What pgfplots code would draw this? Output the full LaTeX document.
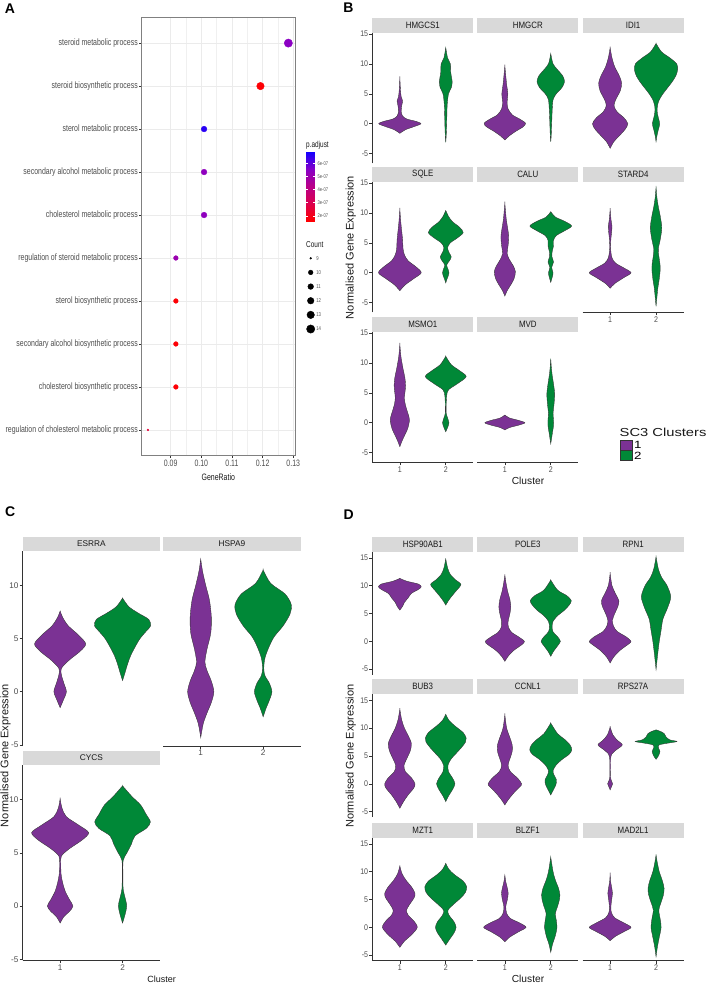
\documentclass[border=0pt]{standalone}
\usepackage{fontspec}
\setmainfont{Liberation Sans}
\newfontfamily\cond[FakeStretch=0.75]{Liberation Sans}
\newfontfamily\condb[FakeStretch=0.86]{Liberation Sans}
\newfontfamily\widef[FakeStretch=1.27]{Liberation Sans}
\usepackage{pgfplots}
\pgfplotsset{compat=1.18}
\usepackage{pgfplotstable}

\definecolor{vp}{HTML}{7B3294}
\definecolor{vg}{HTML}{008837}
\definecolor{stripgray}{HTML}{D9D9D9}
\definecolor{axgray}{HTML}{333333}
\definecolor{tkgray}{HTML}{4D4D4D}
\definecolor{cbzero}{RGB}{255,0,0}
\definecolor{cbone}{RGB}{222,0,75}
\definecolor{cbtwo}{RGB}{186,0,135}
\definecolor{cbthree}{RGB}{135,0,200}
\definecolor{cbfour}{RGB}{20,0,255}
\pgfkeys{/pgf/number format/assume math mode=true}

% mirror a (y, w) profile into a closed outline: s=+1 going up, s=-1 coming down
\newcommand\mkviolin[1]{%
  \pgfplotstablesort[sort key=y, sort cmp=float >]\vrev{#1}%
  \pgfplotstablecreatecol[create col/set={-1}]{s}{\vrev}%
  \pgfplotstablecreatecol[create col/set={1}]{s}{#1}%
  \pgfplotstablevertcat{#1}{\vrev}%
}

% ---------- panel A: GO enrichment ----------
\pgfplotstableread{
row gr count p r
1 0.1284 14 5.4 4.15
2 0.1193 13 1.6 3.75
3 0.1009 11 6.6 2.85
4 0.1009 11 5.3 2.85
5 0.1009 11 5.3 2.85
6 0.0917 10 5.0 2.35
7 0.0917 10 1.6 2.35
8 0.0917 10 1.6 2.35
9 0.0917 10 1.6 2.35
10 0.0826 9 2.5 0.9
}\goA
\pgfplotstableread{
x count r
0.235 9 0.9
0.235 10 2.35
0.235 11 2.85
0.235 12 3.3
0.235 13 3.75
0.235 14 4.15
}\goSize

% ---------- violin profiles: y, half width (x units) ----------
% B
\pgfplotstableread{
y w
-1.6 0
-1.0 0.12
-0.5 0.3
0 0.46
0.4 0.35
0.8 0.15
1.3 0.06
2.0 0.03
3.0 0.04
3.8 0.06
4.5 0.03
5.5 0.015
7.7 0
}\bHMGCSa
\mkviolin\bHMGCSa
\pgfplotstableread{
y w
-3.1 0
-2 0.01
0 0.02
3 0.03
5 0.06
6 0.12
7 0.14
8.5 0.11
10 0.1
11 0.04
12.7 0
}\bHMGCSb
\mkviolin\bHMGCSb
\pgfplotstableread{
y w
-2.7 0
-2.0 0.1
-1.2 0.25
-0.5 0.4
0.1 0.45
0.8 0.32
1.5 0.16
2.5 0.07
3.5 0.05
5.0 0.065
6.5 0.04
8.0 0.02
9.7 0
}\bHMGCRa
\mkviolin\bHMGCRa
\pgfplotstableread{
y w
-3 0
-2 0.01
0 0.02
2 0.03
4 0.05
5 0.12
6 0.24
7 0.3
8 0.26
9 0.15
10 0.05
11.7 0
}\bHMGCRb
\mkviolin\bHMGCRb
\pgfplotstableread{
y w
-4.1 0
-3.0 0.08
-2.0 0.2
-1.0 0.32
0 0.385
1.0 0.3
2.0 0.15
3.0 0.085
4.0 0.12
5.5 0.22
6.8 0.25
8.0 0.2
9.5 0.1
11 0.04
12.7 0
}\bIDIa
\mkviolin\bIDIa
\pgfplotstableread{
y w
-3.0 0
-2 0.02
-1 0.05
0 0.08
1 0.05
2 0.025
3 0.03
4 0.07
5 0.15
6 0.25
7 0.35
8 0.43
9 0.47
10 0.45
11 0.3
12 0.12
13.4 0
}\bIDIb
\mkviolin\bIDIb
\pgfplotstableread{
y w
-3.0 0
-2.0 0.12
-1.0 0.3
0 0.466
1.0 0.35
2.0 0.18
3 0.1
4 0.07
5.5 0.06
7 0.04
8.5 0.02
10.6 0
}\bSQLEa
\mkviolin\bSQLEa
\pgfplotstableread{
y w
-1.7 0
-1.0 0.03
-0.4 0.06
0 0.07
0.6 0.05
1.3 0.02
2.0 0.08
2.65 0.12
3.4 0.07
4.2 0.04
5.0 0.1
5.8 0.25
6.7 0.38
7.6 0.3
8.5 0.15
9.4 0.06
10.4 0
}\bSQLEb
\mkviolin\bSQLEb
\pgfplotstableread{
y w
-3.9 0
-3 0.05
-2 0.13
-1 0.2
0.2 0.23
1.2 0.18
2.2 0.1
3.2 0.05
4.5 0.07
6 0.085
7.5 0.06
9 0.03
11.6 0
}\bCALUa
\mkviolin\bCALUa
\pgfplotstableread{
y w
-1.6 0
-0.8 0.03
0 0.05
0.9 0.02
1.8 0.06
2.7 0.025
3.5 0.03
4.5 0.06
5.4 0.06
6.2 0.12
7.0 0.3
7.8 0.455
8.6 0.3
9.3 0.1
10.2 0
}\bCALUb
\mkviolin\bCALUb
\pgfplotstableread{
y w
-2.6 0
-1.8 0.1
-0.8 0.3
0 0.455
0.8 0.3
1.6 0.12
2.5 0.04
4 0.01
5.5 0.015
7 0.035
7.8 0.04
8.8 0.02
10.6 0
}\bSTARDa
\mkviolin\bSTARDa
\pgfplotstableread{
y w
-5.6 0
-4 0.02
-2.5 0.04
-1 0.07
0.5 0.09
1.5 0.085
2.8 0.06
4 0.05
5.5 0.09
7.5 0.125
9.5 0.09
11 0.05
12.5 0.02
14.3 0
}\bSTARDb
\mkviolin\bSTARDb
\pgfplotstableread{
y w
-4.0 0
-3 0.05
-2 0.11
-1 0.17
0.5 0.21
1.7 0.17
3 0.12
4.1 0.1
5 0.11
6.2 0.125
7.5 0.11
9 0.07
11 0.025
13.1 0
}\bMSMOa
\mkviolin\bMSMOa
\pgfplotstableread{
y w
-1.5 0
-0.8 0.04
0 0.07
0.8 0.04
1.6 0.01
3 0.01
4.5 0.02
5.5 0.06
6.5 0.25
7.7 0.445
8.7 0.3
9.7 0.12
11.1 0
}\bMSMOb
\mkviolin\bMSMOb
\pgfplotstableread{
y w
-1.2 0
-0.8 0.1
-0.4 0.3
0 0.437
0.4 0.3
0.8 0.1
1.3 0
}\bMVDa
\mkviolin\bMVDa
\pgfplotstableread{
y w
-3.5 0
-2.5 0.02
-1.5 0.04
-0.5 0.06
0.5 0.06
1.6 0.05
3 0.07
4.8 0.085
6.5 0.06
8 0.03
9.5 0.01
10.7 0
}\bMVDb
\mkviolin\bMVDb
% C
\pgfplotstableread{
y w
-1.5 0
-0.8 0.05
0 0.1
0.8 0.06
1.6 0.02
2.2 0.02
3 0.15
3.8 0.32
4.5 0.41
5.3 0.3
6.2 0.13
7.0 0.04
7.6 0
}\cESRRAa
\mkviolin\cESRRAa
\pgfplotstableread{
y w
1.05 0
1.8 0.04
2.6 0.08
3.4 0.13
4.2 0.2
5.0 0.28
5.7 0.38
6.2 0.45
6.8 0.42
7.4 0.25
8.0 0.1
8.8 0
}\cESRRAb
\mkviolin\cESRRAb
\pgfplotstableread{
y w
-4.3 0
-3 0.04
-2 0.1
-1 0.17
0 0.21
1 0.17
2 0.1
2.8 0.067
4 0.1
5.5 0.16
7 0.17
8.6 0.14
10 0.08
11.3 0.03
12.46 0
}\cHSPAa
\mkviolin\cHSPAa
\pgfplotstableread{
y w
-2.35 0
-1.5 0.05
-0.8 0.1
0 0.14
0.8 0.1
1.5 0.03
2.2 0.01
3.2 0.03
4.3 0.1
5.2 0.18
6.2 0.32
7.3 0.43
8.2 0.45
9.2 0.35
10.2 0.12
11.45 0
}\cHSPAb
\mkviolin\cHSPAb
\pgfplotstableread{
y w
-1.6 0
-1 0.06
-0.5 0.15
0 0.205
0.6 0.15
1.4 0.08
2.2 0.04
3 0.015
4 0.01
4.7 0.02
5.4 0.15
6.2 0.35
6.9 0.457
7.6 0.3
8.4 0.1
9.2 0.03
10.1 0
}\cCYCSa
\mkviolin\cCYCSa
\pgfplotstableread{
y w
-1.6 0
-0.8 0.04
0 0.067
0.8 0.04
1.6 0.01
3 0.005
4.3 0.01
5 0.07
5.8 0.14
6.6 0.2
7.3 0.38
7.9 0.446
8.6 0.38
9.5 0.29
10.3 0.15
11.3 0
}\cCYCSb
\mkviolin\cCYCSb
% D
\pgfplotstableread{
y w
5.6 0
6.3 0.06
7.0 0.1
7.8 0.18
8.6 0.25
9.3 0.4
9.8 0.466
10.3 0.4
10.8 0.15
11.3 0
}\dHSPa
\mkviolin\dHSPa
\pgfplotstableread{
y w
6.5 0
7.2 0.05
8 0.12
9 0.22
10.2 0.33
11 0.22
12 0.1
13.2 0.04
14.8 0
}\dHSPb
\mkviolin\dHSPb
\pgfplotstableread{
y w
-3.6 0
-2.6 0.08
-1.6 0.2
-0.6 0.37
0 0.426
0.8 0.3
1.6 0.15
2.5 0.08
3.5 0.07
5 0.11
6.2 0.13
7.5 0.11
9 0.06
10.5 0.025
11.9 0
}\dPOLEa
\mkviolin\dPOLEa
\pgfplotstableread{
y w
-2.7 0
-1.8 0.06
-0.8 0.15
0 0.21
0.8 0.15
1.7 0.05
2.6 0.03
3.6 0.05
4.6 0.15
5.6 0.3
6.5 0.4
7.3 0.448
8.2 0.35
9.2 0.15
11.0 0
}\dPOLEb
\mkviolin\dPOLEb
\pgfplotstableread{
y w
-3.9 0
-2.8 0.08
-1.6 0.22
-0.5 0.4
0 0.455
0.8 0.35
1.8 0.15
2.8 0.07
3.8 0.05
5 0.1
6.3 0.17
7.3 0.19
8.5 0.12
10 0.04
12.2 0
}\dRPNa
\mkviolin\dRPNa
\pgfplotstableread{
y w
-5.1 0
-3.5 0.02
-2 0.04
0 0.07
2 0.11
4 0.15
6 0.25
8 0.32
10 0.24
11.5 0.12
13 0.05
15.2 0
}\dRPNb
\mkviolin\dRPNb
\pgfplotstableread{
y w
-4.4 0
-3.2 0.08
-2 0.18
-0.8 0.3
0 0.33
1 0.26
2.2 0.12
3.3 0.09
4.5 0.15
6 0.23
7.3 0.25
8.7 0.18
10 0.1
11.5 0.04
13.4 0
}\dBUBa
\mkviolin\dBUBa
\pgfplotstableread{
y w
-3.2 0
-2.2 0.06
-1 0.15
0 0.2
1 0.15
2.2 0.06
3.4 0.05
4.5 0.12
5.5 0.23
6.6 0.35
7.5 0.43
8.2 0.445
9.2 0.38
10.4 0.2
11.4 0.07
12.5 0
}\dBUBb
\mkviolin\dBUBb
\pgfplotstableread{
y w
-3.8 0
-2.8 0.08
-1.6 0.2
-0.5 0.33
0 0.365
1 0.28
2.2 0.12
3.3 0.07
4.5 0.11
5.8 0.16
7 0.16
8.3 0.11
10 0.04
12.4 0
}\dCCNLa
\mkviolin\dCCNLa
\pgfplotstableread{
y w
-2.0 0
-1.2 0.05
-0.2 0.11
0.7 0.125
1.6 0.07
2.4 0.05
3.4 0.12
4.4 0.25
5.3 0.4
6.1 0.458
7 0.42
8 0.3
9 0.15
10.9 0
}\dCCNLb
\mkviolin\dCCNLb
\pgfplotstableread{
y w
-1.1 0
-0.5 0.03
0 0.055
0.5 0.03
1.2 0.008
3 0.008
4.5 0.01
5.4 0.04
6.2 0.15
7.0 0.265
7.8 0.16
8.8 0.06
10.2 0
}\dRPSa
\mkviolin\dRPSa
\pgfplotstableread{
y w
4.4 0
5 0.05
5.8 0.085
6.5 0.05
7.0 0.07
7.3 0.25
7.6 0.455
7.9 0.3
8.4 0.22
9.0 0.18
9.4 0.1
9.7 0
}\dRPSb
\mkviolin\dRPSb
\pgfplotstableread{
y w
-3.6 0
-2.5 0.1
-1.3 0.26
0 0.38
1.2 0.3
2.2 0.18
3.1 0.145
4.2 0.22
5.3 0.31
6.1 0.33
7.2 0.26
8.4 0.14
9.6 0.05
11.0 0
}\dMZTa
\mkviolin\dMZTa
\pgfplotstableread{
y w
-3.2 0
-2.2 0.08
-1 0.18
0 0.225
1 0.18
2.2 0.07
3.1 0.05
4.2 0.18
5.3 0.33
6.3 0.43
7.3 0.455
8.3 0.38
9.4 0.2
10.4 0.07
11.5 0
}\dMZTb
\mkviolin\dMZTb
\pgfplotstableread{
y w
-2.6 0
-1.8 0.1
-0.8 0.3
0 0.462
0.8 0.32
1.6 0.12
2.5 0.04
3.7 0.02
4.8 0.05
6.1 0.073
7.2 0.05
8.2 0.02
9.4 0
}\dBLZFa
\mkviolin\dBLZFa
\pgfplotstableread{
y w
-4.5 0
-3 0.04
-1.5 0.1
0 0.135
1.3 0.12
2.5 0.1
3.8 0.15
5 0.19
5.8 0.2
7 0.17
8.5 0.1
10 0.05
12.6 0
}\dBLZFb
\mkviolin\dBLZFb
\pgfplotstableread{
y w
-2.4 0
-1.6 0.12
-0.7 0.32
0 0.455
0.8 0.3
1.7 0.1
2.6 0.03
3.5 0.015
4.8 0.03
6.1 0.05
7.3 0.03
8.3 0.01
9.7 0
}\dMADa
\mkviolin\dMADa
\pgfplotstableread{
y w
-5.3 0
-3.5 0.03
-1.8 0.07
0 0.11
1.5 0.09
3.1 0.06
4.5 0.11
5.8 0.16
7 0.175
8.3 0.14
10 0.07
11.5 0.03
13.0 0
}\dMADb
\mkviolin\dMADb

% one violin: centre, colour, mirrored table
\newcommand\violin[3]{%
  \addplot[fill=#2, draw=axgray, line width=0.35pt, smooth]
    table[x expr={#1+\thisrow{s}*\thisrow{w}}, y=y] {#3} -- cycle;
}
\newcommand\bstrip[1]{%
  \fill[stripgray] (rel axis cs:0,1) rectangle ([yshift=15pt]rel axis cs:1,1);
  \node[font=\condb\fontsize{9.2}{10}\selectfont, text=black!90, inner sep=0] at ([yshift=7.5pt]rel axis cs:0.5,1) {#1};}
\newcommand\cstrip[1]{%
  \fill[stripgray] (rel axis cs:0,1) rectangle ([yshift=14pt]rel axis cs:1,1);
  \node[font=\fontsize{8.3}{9}\selectfont, text=black!90, inner sep=0] at ([yshift=7pt]rel axis cs:0.5,1) {#1};}

\pgfplotsset{
  facet/.style={scale only axis, anchor=north west, xmin=0.4, xmax=2.6, clip=false,
    xtick={1,2}, tick align=outside, major tick length=3pt,
    axis line style={draw=axgray, line width=0.7pt},
    tick style={draw=axgray, line width=0.6pt},
    ticklabel style={text=tkgray, inner sep=1pt}},
  bd/.style={facet, width=101pt, ytick={-5,0,5,10,15},
    ticklabel style={font=\condb\fontsize{8.2}{9}\selectfont}},
  brow/.style={bd, height=130.6pt, ymin=-6.6, ymax=15.2},
  drow/.style={bd, height=123pt, ymin=-6.0, ymax=16.1},
  crow/.style={facet, width=137.3pt, height=195.3pt, ymin=-5.1, ymax=13.26,
    ytick={-5,0,5,10}, ticklabel style={font=\fontsize{8.2}{9}\selectfont}},
  onlyleft/.style={axis x line=none, axis y line*=left},
  both/.style={axis lines*=left},
  onlybottom/.style={axis x line*=bottom, axis y line=none},
  noaxis/.style={axis lines=none},
}

\begin{document}
\begin{tikzpicture}
\path[use as bounding box] (0pt,0pt) rectangle (709pt,-986pt);

% ================= A =================
\begin{axis}[at={(141.7pt,-17.3pt)}, anchor=north west, scale only axis,
  width=154pt, height=438.4pt,
  xmin=0.08055, xmax=0.1308, ymin=0.4, ymax=10.6, y dir=reverse,
  xtick={0.09,0.10,0.11,0.12,0.13}, xticklabels={0.09,0.10,0.11,0.12,0.13},
  minor x tick num=1, minor tick length=0pt,
  ytick={1,...,10},
  yticklabels={steroid metabolic process, steroid biosynthetic process, sterol metabolic process,
    secondary alcohol metabolic process, cholesterol metabolic process,
    regulation of steroid metabolic process, sterol biosynthetic process,
    secondary alcohol biosynthetic process, cholesterol biosynthetic process,
    regulation of cholesterol metabolic process},
  xmajorgrids, xminorgrids, ymajorgrids,
  major grid style={draw=black!8, line width=0.6pt},
  minor grid style={draw=black!6, line width=0.35pt},
  axis line style={draw=black!50, line width=0.7pt},
  tick style={draw=axgray, line width=0.5pt}, tick align=outside, major tick length=2.5pt,
  xtick pos=left, ytick pos=left,
  ticklabel style={font=\cond\fontsize{9.3}{10}\selectfont, text=tkgray, inner sep=1.2pt},
  colormap={padj}{rgb255=(255,0,0) rgb255=(222,0,75) rgb255=(186,0,135) rgb255=(135,0,200) rgb255=(20,0,255)},
  point meta min=1.52, point meta max=6.83,
]
\addplot[scatter, only marks, mark=*, point meta=explicit,
  scatter/use mapped color={draw=mapped color, fill=mapped color},
  visualization depends on={\thisrow{r} \as \rad},
  scatter/@pre marker code/.append style={/tikz/mark size=\rad pt}]
  table[x=gr, y=row, meta=p] {\goA};
\end{axis}
% p.adjust colour bar, built from thin slices
\node[anchor=west, inner sep=0, font=\cond\fontsize{8.6}{9}\selectfont, text=black!90] at (306pt,-145pt) {p.adjust};
\foreach \ca/\cb/\yb in {cbzero/cbone/222.3, cbone/cbtwo/204.8, cbtwo/cbthree/187.3, cbthree/cbfour/169.8}{
  \foreach \k in {0,...,17}{
    \pgfmathtruncatemacro\pct{(\k+0.5)/17.5*100}
    \fill[\cb!\pct!\ca] (306pt,{(\k-\yb)*1pt}) rectangle (315pt,{(\k+1.05-\yb)*1pt});
  }
}
\fill[white] (306pt,-152.3pt) rectangle (315pt,-151pt);
\foreach \yy/\lab in {163.3/6e-07, 176.3/5e-07, 189.7/4e-07, 202.7/3e-07, 216/2e-07}{
  \draw[white, line width=0.5pt] (306pt,-\yy pt) -- (307.8pt,-\yy pt) (313.2pt,-\yy pt) -- (315pt,-\yy pt);
  \node[anchor=west, inner sep=0, font=\cond\fontsize{5.4}{6}\selectfont, text=tkgray] at (317.5pt,-\yy pt) {\lab};
}
\node[anchor=west, inner sep=0, font=\cond\fontsize{8.6}{9}\selectfont, text=black!90] at (306pt,-245pt) {Count};
% size legend
\begin{axis}[at={(306pt,-251.2pt)}, anchor=north west, scale only axis,
  width=20pt, height=84.9pt, hide axis, clip=false,
  xmin=0, xmax=1, ymin=8.5, ymax=14.5, y dir=reverse]
\addplot[scatter, only marks, mark=*, point meta=explicit,
  scatter/use mapped color={draw=black, fill=black},
  visualization depends on={\thisrow{r} \as \rad},
  scatter/@pre marker code/.append style={/tikz/mark size=\rad pt}]
  table[x=x, y=count, meta=count] {\goSize};
\addplot[only marks, mark=none, point meta=explicit symbolic,
  nodes near coords,
  every node near coord/.append style={anchor=west, xshift=5.5pt, inner sep=0,
    font=\cond\fontsize{5.6}{6}\selectfont, text=tkgray}]
  table[x=x, y=count, meta=count] {\goSize};
\end{axis}
\node[anchor=center, inner sep=0, font=\cond\fontsize{9.3}{10}\selectfont, text=black!90] at (218.3pt,-476.7pt) {GeneRatio};

% ================= B =================
\begin{axis}[brow, onlyleft, at={(372.3pt,-32.7pt)}]
\bstrip{HMGCS1}
\violin{1}{vp}{\bHMGCSa}
\violin{2}{vg}{\bHMGCSb}
\end{axis}
\begin{axis}[brow, noaxis, at={(477.3pt,-32.7pt)}]
\bstrip{HMGCR}
\violin{1}{vp}{\bHMGCRa}
\violin{2}{vg}{\bHMGCRb}
\end{axis}
\begin{axis}[brow, noaxis, at={(582.6pt,-32.7pt)}]
\bstrip{IDI1}
\violin{1}{vp}{\bIDIa}
\violin{2}{vg}{\bIDIb}
\end{axis}
\begin{axis}[brow, onlyleft, at={(372.3pt,-181.7pt)}]
\bstrip{SQLE}
\violin{1}{vp}{\bSQLEa}
\violin{2}{vg}{\bSQLEb}
\end{axis}
\begin{axis}[brow, noaxis, at={(477.3pt,-181.7pt)}]
\bstrip{CALU}
\violin{1}{vp}{\bCALUa}
\violin{2}{vg}{\bCALUb}
\end{axis}
\begin{axis}[brow, onlybottom, at={(582.6pt,-181.7pt)}]
\bstrip{STARD4}
\violin{1}{vp}{\bSTARDa}
\violin{2}{vg}{\bSTARDb}
\end{axis}
\begin{axis}[brow, both, at={(372.3pt,-331.7pt)}]
\bstrip{MSMO1}
\violin{1}{vp}{\bMSMOa}
\violin{2}{vg}{\bMSMOb}
\end{axis}
\begin{axis}[brow, onlybottom, at={(477.3pt,-331.7pt)}]
\bstrip{MVD}
\violin{1}{vp}{\bMVDa}
\violin{2}{vg}{\bMVDb}
\end{axis}
\node[font=\fontsize{10.2}{11}\selectfont, text=black!90] at (528pt,-480.7pt) {Cluster};
\node[rotate=90, font=\fontsize{11}{12}\selectfont, text=black!90] at (350.7pt,-247.5pt) {Normalised Gene Expression};
% legend
\node[anchor=west, inner sep=0, font=\widef\fontsize{11.6}{12}\selectfont, text=black!90] at (619.5pt,-432.7pt) {SC3 Clusters};
\filldraw[fill=vp, draw=axgray, line width=0.5pt] (620.3pt,-440pt) rectangle (632.3pt,-450.3pt);
\filldraw[fill=vg, draw=axgray, line width=0.5pt] (620.3pt,-450.7pt) rectangle (632.3pt,-460.7pt);
\node[anchor=west, inner sep=0, font=\widef\fontsize{10.5}{11}\selectfont] at (634pt,-445.2pt) {1};
\node[anchor=west, inner sep=0, font=\widef\fontsize{10.5}{11}\selectfont] at (634pt,-455.7pt) {2};

% ================= C =================
\begin{axis}[crow, onlyleft, at={(22.7pt,-550.7pt)}]
\cstrip{ESRRA}
\violin{1}{vp}{\cESRRAa}
\violin{2}{vg}{\cESRRAb}
\end{axis}
\begin{axis}[crow, onlybottom, at={(163.3pt,-550.7pt)}]
\cstrip{HSPA9}
\violin{1}{vp}{\cHSPAa}
\violin{2}{vg}{\cHSPAb}
\end{axis}
\begin{axis}[crow, both, at={(22.7pt,-765pt)}]
\cstrip{CYCS}
\violin{1}{vp}{\cCYCSa}
\violin{2}{vg}{\cCYCSb}
\end{axis}
\node[font=\fontsize{9}{10}\selectfont, text=black!90] at (161.7pt,-979pt) {Cluster};
\node[rotate=90, font=\fontsize{11}{12}\selectfont, text=black!90] at (5.5pt,-755.5pt) {Normalised Gene Expression};

% ================= D =================
\begin{axis}[drow, onlyleft, at={(372.3pt,-551.7pt)}]
\bstrip{HSP90AB1}
\violin{1}{vp}{\dHSPa}
\violin{2}{vg}{\dHSPb}
\end{axis}
\begin{axis}[drow, noaxis, at={(477.3pt,-551.7pt)}]
\bstrip{POLE3}
\violin{1}{vp}{\dPOLEa}
\violin{2}{vg}{\dPOLEb}
\end{axis}
\begin{axis}[drow, noaxis, at={(582.6pt,-551.7pt)}]
\bstrip{RPN1}
\violin{1}{vp}{\dRPNa}
\violin{2}{vg}{\dRPNb}
\end{axis}
\begin{axis}[drow, onlyleft, at={(372.3pt,-694.2pt)}]
\bstrip{BUB3}
\violin{1}{vp}{\dBUBa}
\violin{2}{vg}{\dBUBb}
\end{axis}
\begin{axis}[drow, noaxis, at={(477.3pt,-694.2pt)}]
\bstrip{CCNL1}
\violin{1}{vp}{\dCCNLa}
\violin{2}{vg}{\dCCNLb}
\end{axis}
\begin{axis}[drow, noaxis, at={(582.6pt,-694.2pt)}]
\bstrip{RPS27A}
\violin{1}{vp}{\dRPSa}
\violin{2}{vg}{\dRPSb}
\end{axis}
\begin{axis}[drow, both, at={(372.3pt,-837.7pt)}]
\bstrip{MZT1}
\violin{1}{vp}{\dMZTa}
\violin{2}{vg}{\dMZTb}
\end{axis}
\begin{axis}[drow, onlybottom, at={(477.3pt,-837.7pt)}]
\bstrip{BLZF1}
\violin{1}{vp}{\dBLZFa}
\violin{2}{vg}{\dBLZFb}
\end{axis}
\begin{axis}[drow, onlybottom, at={(582.6pt,-837.7pt)}]
\bstrip{MAD2L1}
\violin{1}{vp}{\dMADa}
\violin{2}{vg}{\dMADb}
\end{axis}
\node[font=\fontsize{10.2}{11}\selectfont, text=black!90] at (528pt,-979.3pt) {Cluster};
\node[rotate=90, font=\fontsize{11}{12}\selectfont, text=black!90] at (350.7pt,-756.2pt) {Normalised Gene Expression};

% panel letters
\node[anchor=north west, inner sep=0, font=\bfseries\fontsize{14}{14}\selectfont] at (4.7pt,-3.3pt) {A};
\node[anchor=north west, inner sep=0, font=\bfseries\fontsize{14}{14}\selectfont] at (343.2pt,-3pt) {B};
\node[anchor=north west, inner sep=0, font=\bfseries\fontsize{14}{14}\selectfont] at (5pt,-507pt) {C};
\node[anchor=north west, inner sep=0, font=\bfseries\fontsize{14}{14}\selectfont] at (343.5pt,-510pt) {D};
\end{tikzpicture}
\end{document}
